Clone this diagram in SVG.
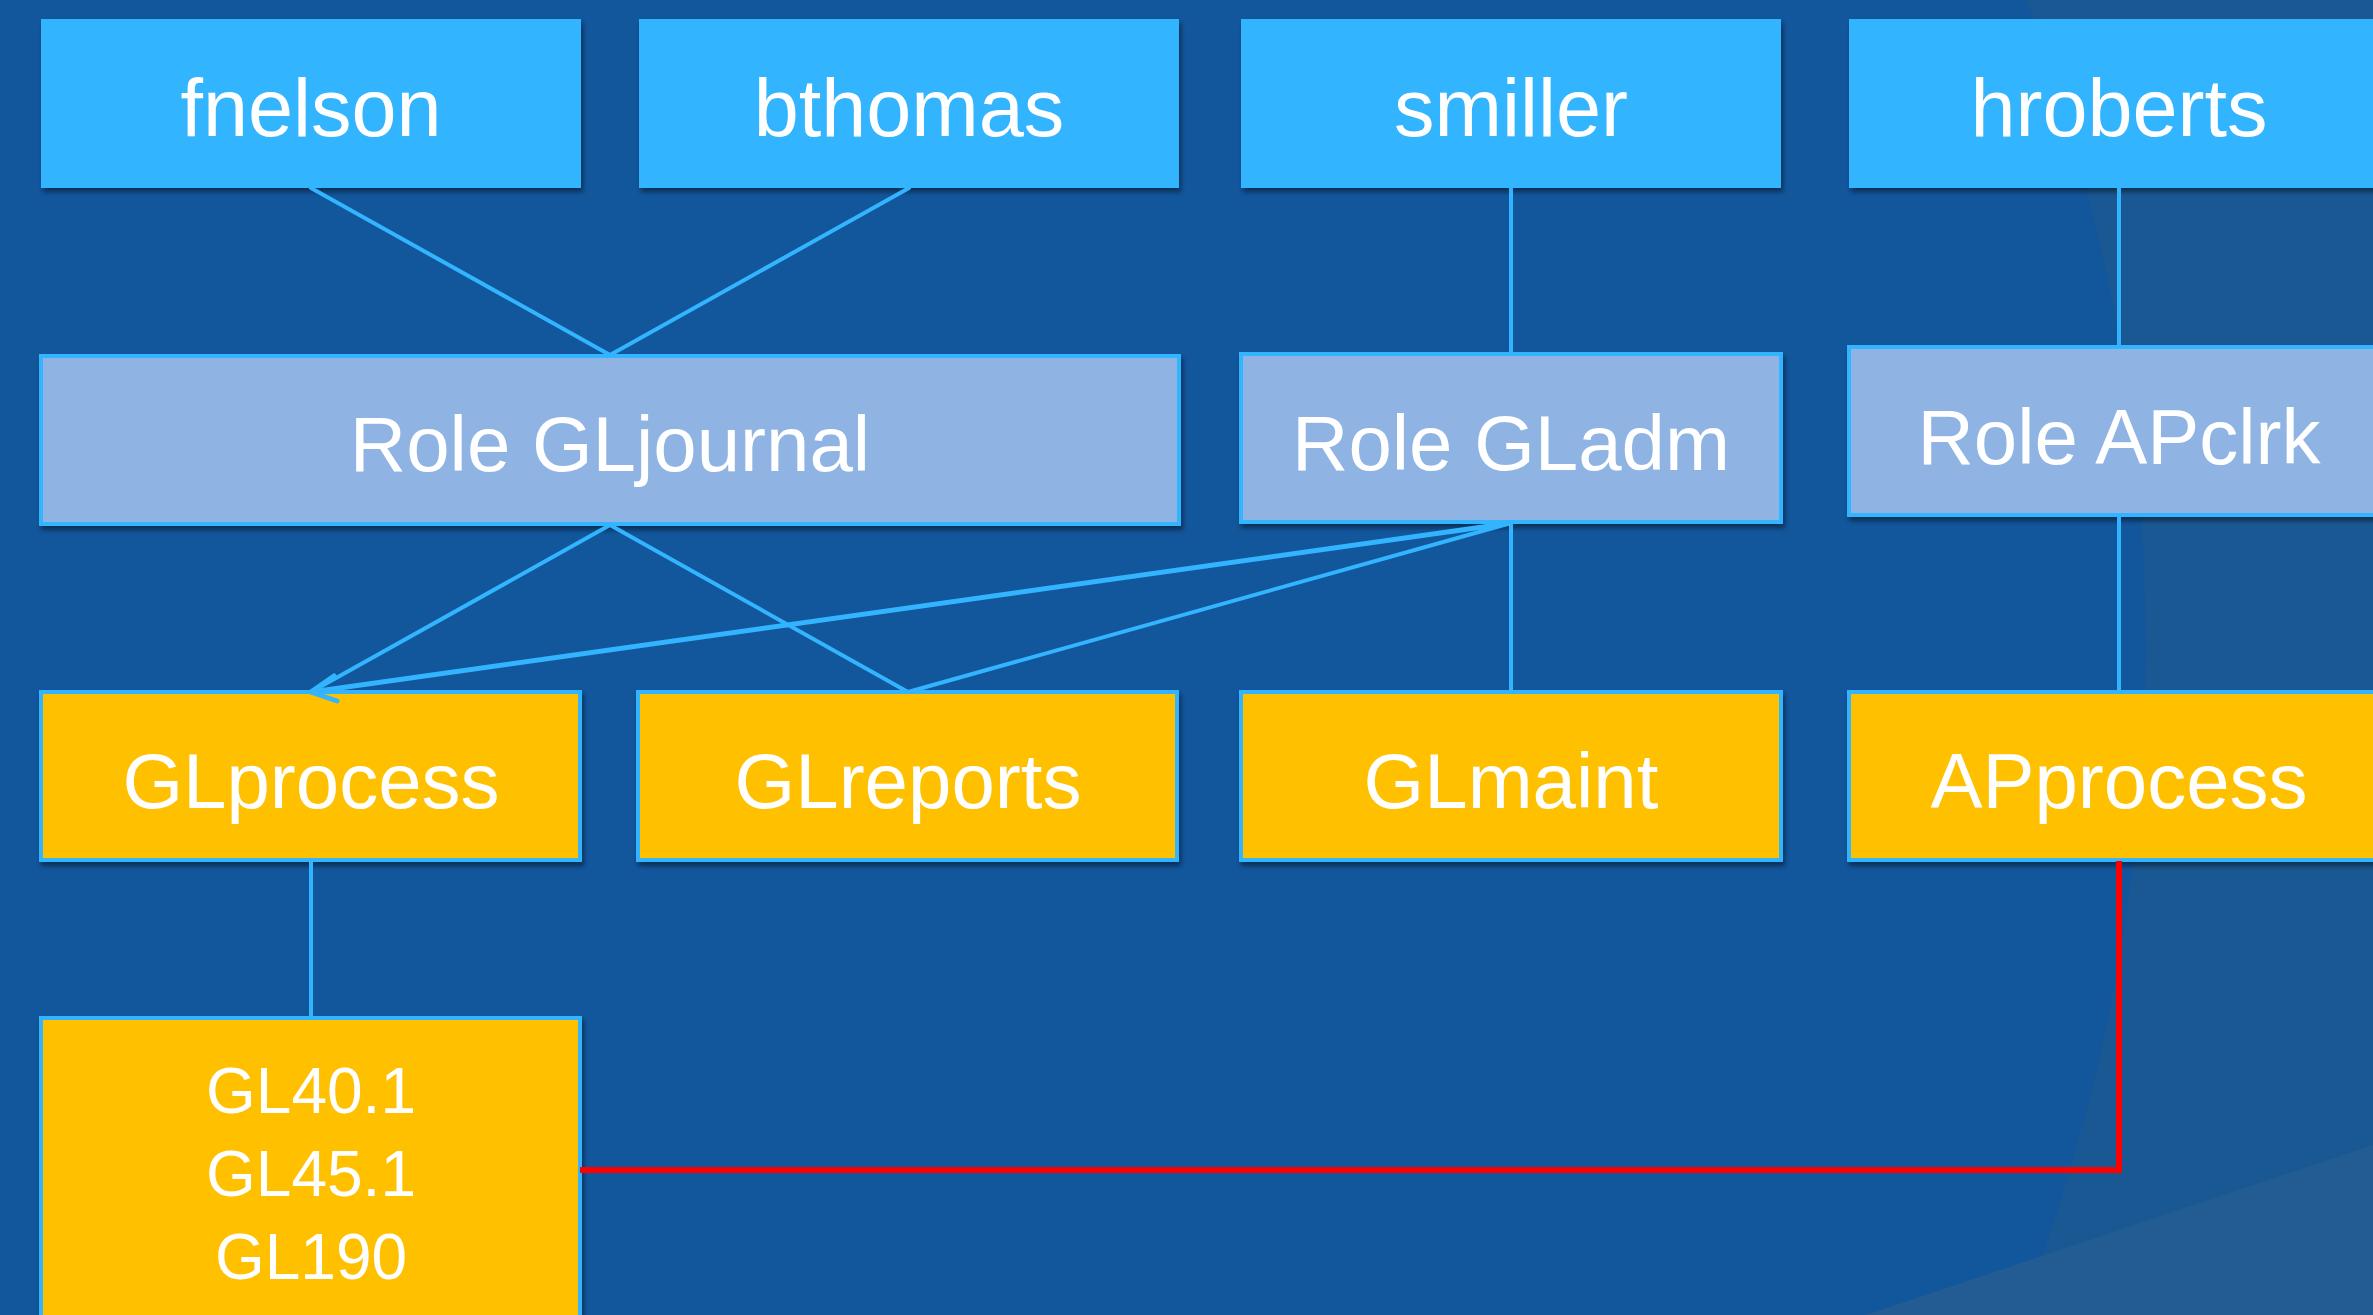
<svg xmlns="http://www.w3.org/2000/svg" width="2373" height="1315" viewBox="0 0 2373 1315">
  <defs>
    <filter id="sh" x="-5%" y="-10%" width="110%" height="130%">
      <feDropShadow dx="2" dy="4" stdDeviation="2.5" flood-color="#000" flood-opacity="0.45"/>
    </filter>
    <style>
      .user { fill: #33B4FE; filter: url(#sh); }
      .role { fill: #8FB4E3; stroke: #33B4FE; stroke-width: 4; filter: url(#sh); }
      .perm { fill: #FFC000; stroke: #33B4FE; stroke-width: 4; filter: url(#sh); }
      .lbl { font-family: "Liberation Sans", Arial, sans-serif; font-size: 78px; fill: #FFFFFF; text-anchor: middle; }
      .top { font-size: 81px; }
      .sm { font-size: 64px; }
      .con { stroke: #33B4FE; stroke-width: 4; fill: none; stroke-linecap: round; }
      .red { stroke: #FF0000; stroke-width: 6; fill: none; }
    </style>
  </defs>

  <g id="background">
    <rect x="0" y="0" width="2373" height="1315" fill="#12569C"/>
    <path d="M2026,0 A1823,1823 0 0 1 2020,1315 L2373,1315 L2373,0 Z" fill="#1A5894"/>
    <path d="M1866,1315 L2373,1145 L2373,1315 Z" fill="#225C93"/>
  </g>

  <g id="node-fnelson">
    <rect class="user" x="41" y="19" width="540" height="169"/>
    <text class="lbl top" x="311" y="136">fnelson</text>
  </g>
  <g id="node-bthomas">
    <rect class="user" x="639" y="19" width="540" height="169"/>
    <text class="lbl top" x="909" y="136">bthomas</text>
  </g>
  <g id="node-smiller">
    <rect class="user" x="1241" y="19" width="540" height="169"/>
    <text class="lbl top" x="1511" y="136">smiller</text>
  </g>
  <g id="node-hroberts">
    <rect class="user" x="1849" y="19" width="540" height="169"/>
    <text class="lbl top" x="2119" y="136">hroberts</text>
  </g>

  <g id="node-role-gljournal">
    <rect class="role" x="41" y="356" width="1138" height="168"/>
    <text class="lbl" x="610" y="471">Role GLjournal</text>
  </g>
  <g id="node-role-gladm">
    <rect class="role" x="1241" y="354" width="540" height="168"/>
    <text class="lbl" x="1511" y="470">Role GLadm</text>
  </g>
  <g id="node-role-apclrk">
    <rect class="role" x="1849" y="347" width="540" height="168"/>
    <text class="lbl" x="2119" y="464">Role APclrk</text>
  </g>

  <g id="node-glprocess">
    <rect class="perm" x="41" y="692" width="539" height="168"/>
    <text class="lbl" x="311" y="808">GLprocess</text>
  </g>
  <g id="node-glreports">
    <rect class="perm" x="638" y="692" width="539" height="168"/>
    <text class="lbl" x="908" y="808">GLreports</text>
  </g>
  <g id="node-glmaint">
    <rect class="perm" x="1241" y="692" width="540" height="168"/>
    <text class="lbl" x="1511" y="808">GLmaint</text>
  </g>
  <g id="node-approcess">
    <rect class="perm" x="1849" y="692" width="540" height="168"/>
    <text class="lbl" x="2119" y="808">APprocess</text>
  </g>

  <g id="node-programs">
    <rect class="perm" x="41" y="1018" width="539" height="330"/>
    <text class="lbl sm" x="311" y="1113">GL40.1</text>
    <text class="lbl sm" x="311" y="1196">GL45.1</text>
    <text class="lbl sm" x="311" y="1279">GL190</text>
  </g>

  <g id="connectors">
    <line class="con" x1="311" y1="188" x2="610" y2="355"/>
    <line class="con" x1="909" y1="188" x2="610" y2="355"/>
    <line class="con" x1="1511" y1="188" x2="1511" y2="354"/>
    <line class="con" x1="2119" y1="188" x2="2119" y2="347"/>
    <line class="con" x1="610" y1="525" x2="311" y2="692"/>
    <line class="con" x1="610" y1="525" x2="908" y2="692"/>
    <line class="con" x1="1511" y1="523" x2="311" y2="692" style="stroke-width:5"/>
    <polyline class="con" points="334,676 311,692 337,701" style="stroke-width:5"/>
    <line class="con" x1="1511" y1="523" x2="908" y2="692"/>
    <line class="con" x1="1511" y1="523" x2="1511" y2="692"/>
    <line class="con" x1="2119" y1="516" x2="2119" y2="692"/>
    <line class="con" x1="311" y1="861" x2="311" y2="1018"/>
    <path class="red" d="M580,1170 H2119 V861"/>
  </g>
</svg>
